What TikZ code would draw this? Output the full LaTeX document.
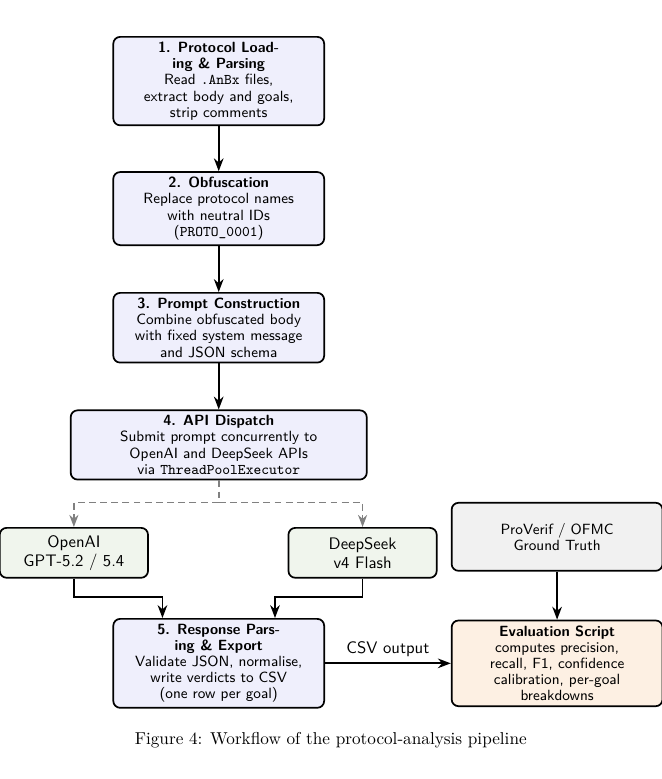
\documentclass[tikz,border=0pt]{standalone}
\usepackage{fontspec}
\usetikzlibrary{arrows.meta,positioning,calc}

\definecolor{stagefill}{RGB}{239,239,252}
\definecolor{modelfill}{RGB}{240,245,237}
\definecolor{truthfill}{RGB}{241,241,241}
\definecolor{evalfill}{RGB}{253,240,227}

\begin{document}
\begin{tikzpicture}[
  >=Stealth,
  every node/.style={font=\sffamily\fontsize{8.6}{9.4}\selectfont},
  link/.style={->, line width=1pt},
  box/.style={draw, line width=1pt, rounded corners=4pt, align=center,
              inner sep=3pt},
  stage/.style={box, fill=stagefill, minimum width=4.31cm},
  model/.style={box, fill=modelfill, minimum width=3.03cm,
                minimum height=1.02cm,
                font=\sffamily\fontsize{9.7}{11}\selectfont},
  truth/.style={box, fill=truthfill, minimum width=4.31cm,
                minimum height=1.39cm},
  result/.style={box, fill=evalfill, minimum width=4.31cm},
]
\useasboundingbox (0,0) rectangle (13.51,-15.92);

\node[stage, anchor=north] (load) at (4.47,-0.736)
  {\textbf{1. Protocol Load-}\\\textbf{ing \& Parsing}\\Read \texttt{.AnBx} files,\\extract body and goals,\\strip comments};
\node[stage, below=0.92cm of load] (obf)
  {\textbf{2. Obfuscation}\\Replace protocol names\\with neutral IDs\\(\texttt{PROTO\_0001})};
\node[stage, below=0.94cm of obf] (prompt)
  {\textbf{3. Prompt Construction}\\Combine obfuscated body\\with fixed system message\\and JSON schema};
\node[stage, minimum width=6.05cm, below=0.94cm of prompt] (dispatch)
  {\textbf{4. API Dispatch}\\Submit prompt concurrently to\\OpenAI and DeepSeek APIs\\via \texttt{ThreadPoolExecutor}};

\node[model, anchor=north] (openai) at (1.51,-10.77) {OpenAI\\GPT-5.2 / 5.4};
\node[model, anchor=north] (deepseek) at (7.41,-10.77) {DeepSeek\\v4 Flash};

\node[stage, anchor=north] (resp) at (4.47,-12.63)
  {\textbf{5. Response Pars-}\\\textbf{ing \& Export}\\Validate JSON, normalise,\\write verdicts to CSV\\(one row per goal)};
\node[result, right=2.57cm of resp] (eval)
  {\textbf{Evaluation Script}\\computes precision,\\recall, F1, confidence\\calibration, per-goal\\breakdowns};
\node[truth, above=0.98cm of eval] (truth) {ProVerif / OFMC\\Ground Truth};

\draw[link] (load) -- (obf);
\draw[link] (obf) -- (prompt);
\draw[link] (prompt) -- (dispatch);

% fan-out to the two APIs
\draw[line width=0.9pt, dash pattern=on 4pt off 2.5pt, gray]
  (dispatch.south) -- ++(0,-0.45) coordinate (split);
\draw[link, line width=0.9pt, dash pattern=on 4pt off 2.5pt, gray] (split) -| (openai.north);
\draw[link, line width=0.9pt, dash pattern=on 4pt off 2.5pt, gray] (split) -| (deepseek.north);

\draw[link] (openai.south) -- ++(0,-0.37) -| ([xshift=-1.15cm]resp.north);
\draw[link] (deepseek.south) -- ++(0,-0.37) -| ([xshift=1.15cm]resp.north);
\draw[link] (truth) -- (eval);
\draw[link] (resp) -- node[above, font=\sffamily\fontsize{9.7}{11}\selectfont] {CSV output} (eval);

\node[font=\rmfamily\fontsize{10}{12}\selectfont] (caption) at (6.76,-15.13)
  {Figure 4: Workflow of the protocol-analysis pipeline};
\end{tikzpicture}
\end{document}
